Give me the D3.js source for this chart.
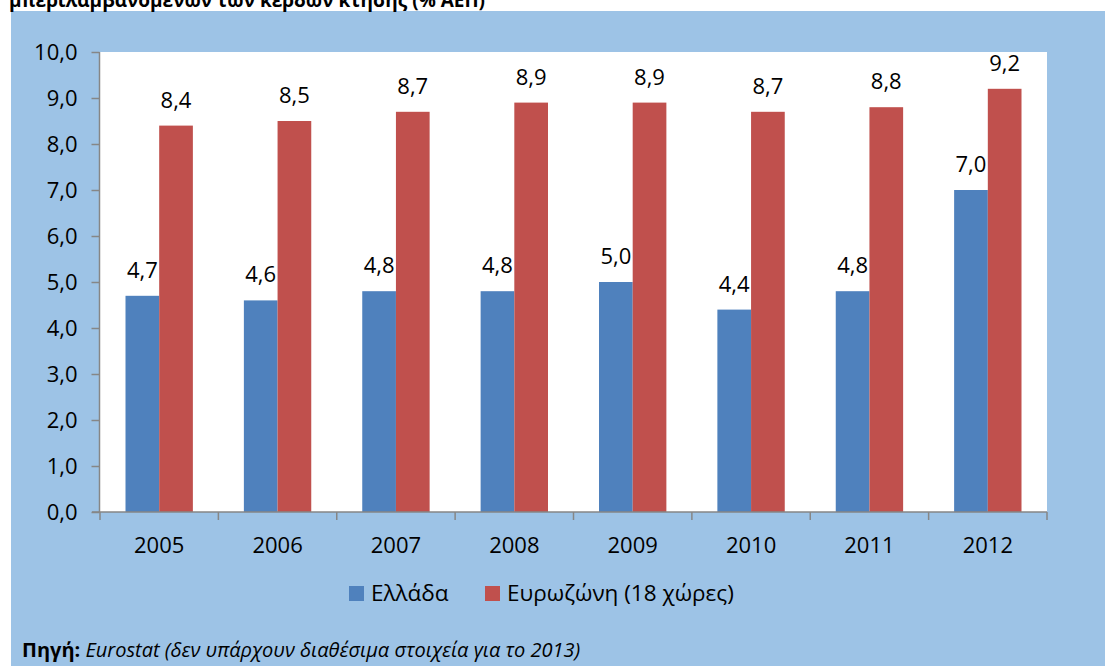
<!DOCTYPE html>
<html>
<head>
<meta charset="utf-8">
<script src="https://cdn.jsdelivr.net/npm/d3@7"></script>
<style>
  html, body { margin: 0; padding: 0; background: #ffffff; }
  svg { display: block; }
  text { font-family: "Open Sans", "Noto Sans", sans-serif; fill: #000; }
</style>
</head>
<body>
<svg id="chart" width="1105" height="666"></svg>
<script>
const years = ["2005", "2006", "2007", "2008", "2009", "2010", "2011", "2012"];
const seriesNames = ["Ελλάδα", "Ευρωζώνη (18 χώρες)"];
const greece = [4.7, 4.6, 4.8, 4.8, 5.0, 4.4, 4.8, 7.0];
const eurozone = [8.4, 8.5, 8.7, 8.9, 8.9, 8.7, 8.8, 9.2];
const yTicks = [0, 1, 2, 3, 4, 5, 6, 7, 8, 9, 10];
const colors = ["#4F81BD", "#C0504D"];
const titleText = "μπεριλαμβανομένων των κερδών κτήσης (% ΑΕΠ)";
const sourceBold = "Πηγή:";
const sourceItalic = " Eurostat (δεν υπάρχουν διαθέσιμα στοιχεία για το 2013)";

const svg = d3.select("#chart");
const fmt = v => d3.format(".1f")(v).replace(".", ",");

// background panel
svg.append("rect").attr("x", 11).attr("y", 11).attr("width", 1105 - 11).attr("height", 666 - 11)
  .attr("fill", "#9DC3E6");

// title (cut off at the top, as in the original)
svg.append("text").attr("x", 9).attr("y", 7)
  .style("font-weight", "bold").style("font-size", "19px")
  .text(titleText);

const plot = { left: 100, right: 1047, top: 52, bottom: 512 };

svg.append("rect").attr("x", plot.left).attr("y", plot.top)
  .attr("width", plot.right - plot.left).attr("height", plot.bottom - plot.top)
  .attr("fill", "#ffffff");

const y = d3.scaleLinear().domain([0, 10]).range([plot.bottom, plot.top]);
const x0 = d3.scaleBand().domain(years).range([plot.left, plot.right]).padding(0);
const x1 = d3.scaleBand().domain(seriesNames).range([0, x0.bandwidth()])
  .paddingInner(0).paddingOuter(0.757);

const data = years.map((yr, i) => ({ year: yr, values: [greece[i], eurozone[i]] }));

// bars
const groups = svg.append("g").selectAll("g").data(data).join("g")
  .attr("transform", d => `translate(${x0(d.year)},0)`);

groups.selectAll("rect").data(d => d.values.map((v, j) => ({ v, s: seriesNames[j], j })))
  .join("rect")
  .attr("x", d => x1(d.s))
  .attr("y", d => y(d.v))
  .attr("width", x1.bandwidth())
  .attr("height", d => y(0) - y(d.v))
  .attr("fill", d => colors[d.j]);

groups.selectAll("text.lbl").data(d => d.values.map((v, j) => ({ v, s: seriesNames[j], j })))
  .join("text")
  .attr("class", "lbl")
  .attr("x", d => x1(d.s) + x1.bandwidth() / 2)
  .attr("y", d => y(d.v) - 18)
  .attr("text-anchor", "middle")
  .style("font-size", "22px")
  .text(d => fmt(d.v));

// y axis
const yAxis = d3.axisLeft(y).tickValues(yTicks).tickSize(8).tickPadding(14).tickFormat(fmt);
const ya = svg.append("g").attr("transform", `translate(${plot.left - 0.5},0)`).call(yAxis);
ya.selectAll("path, line").attr("stroke", "#868686").attr("stroke-width", 1.5);
ya.select(".domain").attr("d", `M0,${plot.top}V${plot.bottom}`);
ya.selectAll("text").style("font-size", "22px").style("font-family", "\"Open Sans\", sans-serif").attr("fill", "#000");

// x axis with boundary ticks
const xa = svg.append("g").attr("transform", `translate(0,${plot.bottom})`);
xa.append("line").attr("x1", plot.left - 8).attr("x2", plot.right)
  .attr("stroke", "#868686").attr("stroke-width", 1.5);
const bounds = years.map(yr => x0(yr)).concat([x0(years[years.length - 1]) + x0.bandwidth()]);
xa.selectAll("line.tk").data(bounds).join("line").attr("class", "tk")
  .attr("x1", d => d).attr("x2", d => d).attr("y1", 0).attr("y2", 8)
  .attr("stroke", "#868686").attr("stroke-width", 1.5);
xa.selectAll("text").data(years).join("text")
  .attr("x", d => x0(d) + x0.bandwidth() / 2)
  .attr("y", 41)
  .attr("text-anchor", "middle")
  .style("font-size", "22px")
  .text(d => d);

// legend
const legendItems = [
  { name: seriesNames[0], color: colors[0], x: 349 },
  { name: seriesNames[1], color: colors[1], x: 485 }
];
const lg = svg.append("g");
legendItems.forEach(it => {
  lg.append("rect").attr("x", it.x).attr("y", 586).attr("width", 15).attr("height", 15).attr("fill", it.color);
  lg.append("text").attr("x", it.x + 22).attr("y", 601).style("font-size", "22.5px").text(it.name);
});

// source
const src = svg.append("text").attr("x", 22).attr("y", 657).style("font-size", "20px");
src.append("tspan").style("font-weight", "bold").text(sourceBold);
src.append("tspan").style("font-style", "italic").text(sourceItalic);
</script>
</body>
</html>
